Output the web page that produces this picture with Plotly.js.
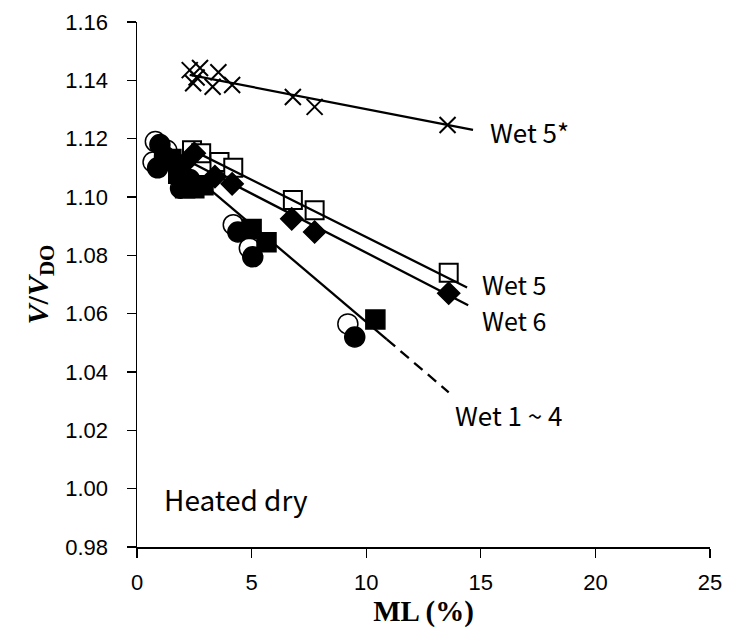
<!DOCTYPE html>
<html>
<head>
<meta charset="utf-8">
<script src="https://cdn.plot.ly/plotly-3.0.1.min.js"></script>
<style>html,body{margin:0;padding:0;background:#fff;}#chart{width:730px;height:644px;}</style>
</head>
<body>
<div id="chart"></div>
<script>
// ---- data ----
const openCircleX = [0.8, 0.7, 1.3, 4.2, 4.9, 9.2];
const openCircleY = [1.119, 1.112, 1.116, 1.0905, 1.0825, 1.0565];
const filledCircleX = [1.0, 0.9, 1.2, 1.9, 2.3, 4.4, 5.05, 9.5];
const filledCircleY = [1.118, 1.110, 1.114, 1.103, 1.106, 1.088, 1.0795, 1.052];
const filledSquareX = [1.5, 1.8, 2.1, 2.5, 2.9, 5.0, 5.65, 10.4];
const filledSquareY = [1.113, 1.108, 1.103, 1.103, 1.104, 1.089, 1.0845, 1.058];
const wet5X = [2.4, 2.8, 3.6, 4.2, 6.8, 7.75, 13.6];
const wet5Y = [1.116, 1.115, 1.112, 1.110, 1.099, 1.0955, 1.074];
const wet6X = [2.0, 2.5, 3.4, 4.15, 6.75, 7.75, 13.6];
const wet6Y = [1.111, 1.115, 1.107, 1.1045, 1.0925, 1.088, 1.067];
const wet5sX = [2.3, 2.45, 2.6, 2.75, 3.3, 3.55, 4.15, 6.8, 7.75, 13.55];
const wet5sY = [1.1435, 1.139, 1.141, 1.1442, 1.1378, 1.1428, 1.1384, 1.1343, 1.1309, 1.1247];

// fitted trend lines (end points)
const wet14LineX = [0.9, 10.9];
const wet14LineY = [1.1178, 1.0512];
const wet14DashX = [10.9, 13.6];
const wet14DashY = [1.0512, 1.033];
const wet5LineX = [2.3, 14.4];
const wet5LineY = [1.1165, 1.069];
const wet6LineX = [2.2, 14.45];
const wet6LineY = [1.1125, 1.0629];
const wet5sLineX = [2.3, 14.66];
const wet5sLineY = [1.1419, 1.123];

const labelTexts = ['Wet 5*', 'Wet 5', 'Wet 6', 'Wet 1 ~ 4', 'Heated dry'];
const labelX = [15.3, 14.95, 14.95, 13.8, 1.1];
const labelY = [1.1223, 1.0703, 1.0577, 1.0255, 0.9965];
const labelSize = [26, 25, 25, 26, 28];

const xTicks = [0, 5, 10, 15, 20, 25];
const yTicks = [0.98, 1.00, 1.02, 1.04, 1.06, 1.08, 1.10, 1.12, 1.14, 1.16];

const K = '#000000';
function mk(x, y, symbol, size, fill, lw) {
  return {x: x, y: y, type: 'scatter', mode: 'markers', showlegend: false, cliponaxis: false,
    marker: {symbol: symbol, size: size, color: fill, line: {color: K, width: lw}}};
}
function ln(x, y, dash) {
  return {x: x, y: y, type: 'scatter', mode: 'lines', showlegend: false,
    line: {color: K, width: 2.3, dash: dash || 'solid'}};
}

const traces = [
  mk(openCircleX, openCircleY, 'circle', 20, '#ffffff', 1.5),
  mk(filledCircleX, filledCircleY, 'circle', 20, K, 1.5),
  mk(filledSquareX, filledSquareY, 'square', 19, K, 1.5),
  mk(wet5X, wet5Y, 'square', 18, '#ffffff', 2),
  mk(wet6X, wet6Y, 'diamond', 17, K, 1.5),
  mk(wet5sX, wet5sY, 'x-thin-open', 16, K, 2),
  ln(wet14LineX, wet14LineY),
  ln(wet14DashX, wet14DashY, '11px,7px'),
  ln(wet5LineX, wet5LineY),
  ln(wet6LineX, wet6LineY),
  ln(wet5sLineX, wet5sLineY)
];

const annotations = labelTexts.map((t, i) => ({
  x: labelX[i], y: labelY[i], xref: 'x', yref: 'y', text: t, showarrow: false,
  xanchor: 'left', yanchor: 'middle',
  font: {family: 'Noto Sans CJK KR, Noto Sans, sans-serif', size: labelSize[i], color: K}
}));

const axisCommon = {
  showline: true, linecolor: K, linewidth: 1.5, mirror: false,
  ticks: 'outside', ticklen: 9, tickwidth: 1.3, tickcolor: K,
  showgrid: false, zeroline: false,
  tickfont: {family: 'Liberation Sans, Arial, sans-serif', size: 22, color: K}
};

const layout = {
  width: 730, height: 644,
  margin: {l: 137, r: 20, t: 22, b: 97},
  paper_bgcolor: '#fff', plot_bgcolor: '#fff',
  showlegend: false,
  xaxis: Object.assign({}, axisCommon, {
    range: [0, 25], tickvals: xTicks, ticktext: xTicks.map(String),
    ticklabelstandoff: 6,
    title: {text: '<b>ML (%)</b>', font: {family: 'Liberation Serif, Times New Roman, serif', size: 29, color: K}, standoff: 6}
  }),
  yaxis: Object.assign({}, axisCommon, {
    range: [0.98, 1.16], tickvals: yTicks, ticktext: yTicks.map(v => v.toFixed(2)),
    ticklabelstandoff: 14,
    title: {text: '<b><i>V</i>/<i>V</i><sub>DO</sub></b>', font: {family: 'Liberation Serif, Times New Roman, serif', size: 30, color: K}, standoff: 8}
  }),
  annotations: annotations
};

Plotly.newPlot('chart', traces, layout, {displayModeBar: false, staticPlot: true});
</script>
</body>
</html>
